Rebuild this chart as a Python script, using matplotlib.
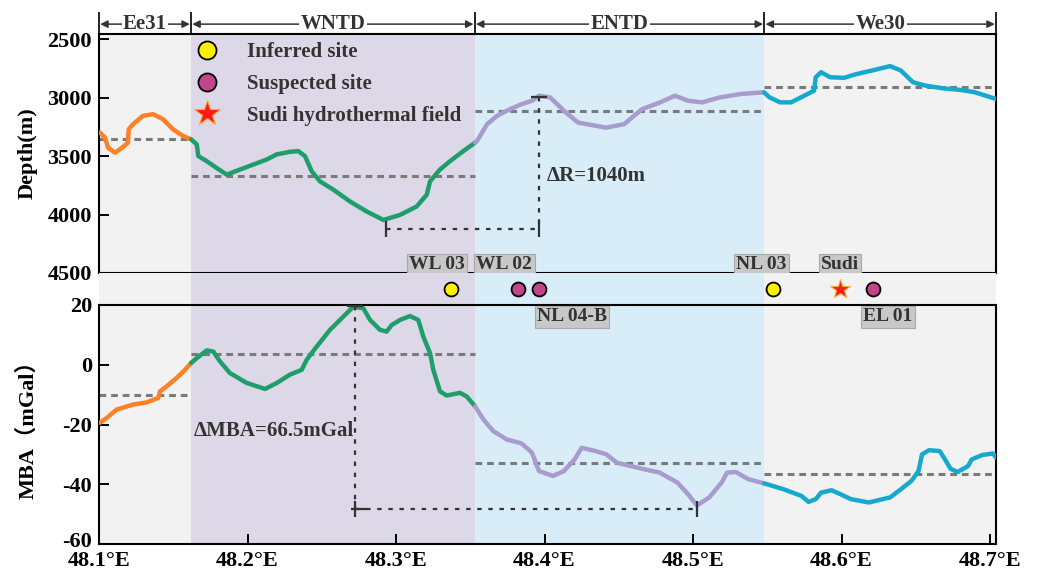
import matplotlib

matplotlib.use("Agg")
import matplotlib.pyplot as plt
import matplotlib.transforms as mtransforms
from matplotlib.lines import Line2D

plt.rcParams["font.family"] = ["Liberation Serif", "Noto Sans CJK SC", "DejaVu Sans"]
plt.rcParams["font.weight"] = "bold"
plt.rcParams["axes.labelweight"] = "bold"
plt.rcParams["axes.unicode_minus"] = False

# segment names and boundaries (longitude, deg E)
regions = ["Ee31", "WNTD", "ENTD", "We30"]
bounds = [48.1, 48.162, 48.353, 48.548, 48.704]
region_bg = ["#f2f2f2", "#dcd8e8", "#d8edf8", "#f2f2f2"]
line_colors = ["#ff8027", "#1f9e6c", "#a89bcd", "#16a9cf"]

# depth profile, one list per segment
depth_lon = [
    [48.1007, 48.1040, 48.1061, 48.1108, 48.1155, 48.1195, 48.1200, 48.1229,
     48.1296, 48.1364, 48.1431, 48.1498, 48.1566, 48.1620],
    [48.1620, 48.1658, 48.1669, 48.1725, 48.1792, 48.1860, 48.1949, 48.2039,
     48.2129, 48.2197, 48.2286, 48.2342, 48.2387, 48.2432, 48.2488, 48.2578,
     48.2690, 48.2803, 48.2915, 48.3027, 48.3139, 48.3207, 48.3229, 48.3296,
     48.3364, 48.3453, 48.3532],
    [48.3532, 48.3545, 48.3579, 48.3613, 48.3680, 48.3768, 48.3835, 48.3916,
     48.3963, 48.4037, 48.4131, 48.4226, 48.4414, 48.4535, 48.4657, 48.4778,
     48.4879, 48.4966, 48.5061, 48.5182, 48.5323, 48.5478],
    [48.5478, 48.5515, 48.5586, 48.5660, 48.5727, 48.5815, 48.5826, 48.5862,
     48.5923, 48.6017, 48.6088, 48.6206, 48.6327, 48.6399, 48.6481, 48.6566,
     48.6684, 48.6805, 48.6899, 48.7040],
]
depth_val = [
    [3299, 3342, 3428, 3471, 3428, 3385, 3270, 3227, 3155, 3141, 3184, 3270,
     3328, 3356],
    [3356, 3399, 3500, 3543, 3601, 3658, 3615, 3572, 3529, 3485, 3463, 3457,
     3500, 3629, 3716, 3787, 3888, 3974, 4046, 4003, 3931, 3830, 3716, 3615,
     3543, 3457, 3385],
    [3385, 3371, 3299, 3227, 3155, 3098, 3060, 3026, 2983, 2997, 3112, 3213,
     3256, 3227, 3098, 3040, 2983, 3026, 3040, 2997, 2968, 2954],
    [2954, 2997, 3040, 3040, 2997, 2940, 2825, 2782, 2825, 2830, 2802, 2767,
     2730, 2767, 2868, 2897, 2920, 2934, 2954, 3011],
]
depth_mean = [3351, 3672, 3112, 2910]

# mantle Bouguer anomaly profile
mba_lon = [
    [48.1007, 48.1052, 48.1119, 48.1231, 48.1321, 48.1399, 48.1411, 48.1456,
     48.1523, 48.1579, 48.1620],
    [48.1620, 48.1658, 48.1725, 48.1770, 48.1815, 48.1882, 48.1995, 48.2118,
     48.2197, 48.2286, 48.2365, 48.2399, 48.2466, 48.2556, 48.2645, 48.2712,
     48.2780, 48.2825, 48.2892, 48.2937, 48.2971, 48.3027, 48.3094, 48.3150,
     48.3184, 48.3229, 48.3251, 48.3296, 48.3341, 48.3431, 48.3476, 48.3532],
    [48.3532, 48.3588, 48.3655, 48.3745, 48.3844, 48.3915, 48.3963, 48.4057,
     48.4130, 48.4202, 48.4250, 48.4345, 48.4417, 48.4488, 48.4655, 48.4775,
     48.4894, 48.4966, 48.5026, 48.5109, 48.5193, 48.5229, 48.5288, 48.5372,
     48.5478],
    [48.5478, 48.5611, 48.5730, 48.5778, 48.5826, 48.5862, 48.5933, 48.5992,
     48.6064, 48.6184, 48.6327, 48.6399, 48.6470, 48.6518, 48.6542, 48.6589,
     48.6661, 48.6697, 48.6733, 48.6781, 48.6852, 48.6876, 48.6948, 48.7020,
     48.7040],
]
mba_val = [
    [-19.4, -17.8, -15.0, -13.3, -12.6, -11.1, -8.9, -7.2, -4.4, -1.7, 0.6],
    [0.6, 2.2, 4.8, 4.4, 1.1, -2.8, -6.1, -8.1, -6.1, -3.3, -1.7, 1.7, 6.1,
     11.7, 16.1, 19.4, 18.9, 15.0, 11.7, 11.1, 13.3, 15.0, 16.3, 15.0, 9.4,
     3.9, -1.7, -8.9, -10.3, -9.4, -10.6, -13.9],
    [-13.9, -18.3, -22.2, -25.0, -26.3, -29.4, -35.6, -37.2, -35.6, -31.7,
     -27.8, -28.9, -30.0, -32.8, -34.8, -36.1, -39.4, -43.3, -47.1, -44.4,
     -39.4, -36.1, -35.9, -38.3, -39.7],
    [-39.7, -41.7, -43.9, -45.9, -45.0, -42.8, -42.0, -43.3, -45.0, -46.1,
     -44.4, -41.7, -38.9, -35.6, -30.0, -28.6, -28.9, -31.7, -34.8, -35.9,
     -33.9, -31.7, -30.2, -29.7, -31.1],
]
mba_mean = [-10.2, 3.7, -33.0, -36.7]

# hydrothermal sites
inferred_lon = [48.337, 48.554]
suspected_lon = [48.382, 48.396, 48.621]
sudi_lon = [48.599]
top_site_names = ["WL 03", "WL 02", "NL 03", "Sudi"]
top_site_lon = [48.3276, 48.373, 48.546, 48.599]
bot_site_names = ["NL 04-B", "EL 01"]
bot_site_lon = [48.4185, 48.631]

# relief / anomaly range annotations
dr_x = [48.2933, 48.3963]
dr_y = [2990, 4120]
dmba_x = [48.2722, 48.5026]
dmba_y = [19.5, -48.3]

xticks = [48.1, 48.2, 48.3, 48.4, 48.5, 48.6, 48.7]
xticklabels = ["48.1°E", "48.2°E", "48.3°E", "48.4°E", "48.5°E", "48.6°E", "48.7°E"]

W, H = 1053, 573
L, AW = 99 / W, 897 / W
fig = plt.figure(figsize=(W / 100, H / 100), dpi=100)
ax_head = fig.add_axes([L, 1 - 34 / H, AW, 26 / H])
ax_top = fig.add_axes([L, 1 - 273 / H, AW, 239 / H])
ax_mid = fig.add_axes([L, 1 - 305 / H, AW, 32 / H])
ax_bot = fig.add_axes([L, 1 - 544 / H, AW, 239 / H])

xlim = (bounds[0], bounds[-1])
for ax in (ax_head, ax_top, ax_mid, ax_bot):
    ax.set_xlim(xlim)

# background shading
for ax in (ax_top, ax_mid, ax_bot):
    for i in range(len(regions)):
        ax.axvspan(bounds[i], bounds[i + 1], color=region_bg[i], lw=0, zorder=0)

# header with arrows
ax_head.axis("off")
ax_head.set_ylim(0, 1)
for b in bounds:
    ax_head.plot([b, b], [0, 0.82], color="#222222", lw=1.4, clip_on=False)
for i, name in enumerate(regions):
    ax_head.annotate("", xy=(bounds[i] + 0.0008, 0.38), xytext=(bounds[i + 1] - 0.0008, 0.38),
                     arrowprops=dict(arrowstyle="<|-|>", color="#333333", lw=1.1,
                                     mutation_scale=11, shrinkA=0, shrinkB=0))
    ax_head.text((bounds[i] + bounds[i + 1]) / 2, 0.38, name, ha="center", va="center",
                 fontsize=15, color="#333333",
                 bbox=dict(facecolor="white", edgecolor="none", pad=1.0))

dash = dict(color="#7a7a7a", lw=2.2, ls=(0, (2.2, 1.6)), zorder=2)

# depth panel
for i in range(len(regions)):
    ax_top.plot(depth_lon[i], depth_val[i], color=line_colors[i], lw=3.2, zorder=3,
                solid_capstyle="round")
    ax_top.plot([bounds[i], bounds[i + 1]], [depth_mean[i]] * 2, **dash)
ax_top.set_ylim(4500, 2455)
ax_top.set_yticks([2500, 3000, 3500, 4000, 4500])
ax_top.set_xticks([])
ax_top.set_ylabel("Depth(m)", fontsize=16)
ax_top.yaxis.set_label_coords(-0.068, 0.5)

dot = dict(color="#333333", lw=1.6, ls=(0, (2, 3)), zorder=4)
ax_top.plot([dr_x[1], dr_x[1]], dr_y, **dot)
ax_top.plot(dr_x, [dr_y[1]] * 2, **dot)
ax_top.plot([dr_x[1]], [dr_y[0]], marker="_", ms=12, mew=1.6, color="#333333", zorder=4)
ax_top.plot(dr_x, [dr_y[1]] * 2, ls="none", marker="|", ms=12, mew=1.6, color="#333333", zorder=4)
ax_top.text(dr_x[1] + 0.005, 3672, "ΔR=1040m", fontsize=15, color="#333333",
            ha="left", va="center", zorder=5)

for name, x in zip(top_site_names, top_site_lon):
    ax_top.text(x, 4430, name, ha="center", va="center", fontsize=14, color="#333333",
                bbox=dict(boxstyle="square,pad=0.12", facecolor="#c8c8c8",
                          edgecolor="#a8a8a8", lw=0.8), zorder=5)

handles = [
    Line2D([], [], ls="none", marker="o", ms=13, mfc="#ffee00", mec="black", mew=1.3),
    Line2D([], [], ls="none", marker="o", ms=13, mfc="#c0458a", mec="black", mew=1.3),
    Line2D([], [], ls="none", marker="*", ms=19, mfc="#ff1a1a", mec="#ffaa33", mew=0.8),
]
leg = ax_top.legend(handles, ["Inferred site", "Suspected site", "Sudi hydrothermal field"],
                    loc="upper left", bbox_to_anchor=(0.1, 1.0), frameon=False,
                    fontsize=15, handlelength=1.0, handletextpad=1.4, labelspacing=0.56,
                    borderaxespad=0)
for t in leg.get_texts():
    t.set_color("#333333")

# marker strip
ax_mid.set_ylim(0, 1)
for s in ax_mid.spines.values():
    s.set_visible(False)
ax_mid.set_xticks([])
ax_mid.set_yticks([])
ax_mid.plot(inferred_lon, [0.5] * len(inferred_lon), ls="none", marker="o", ms=10,
            mfc="#ffee00", mec="black", mew=1.3, zorder=3)
ax_mid.plot(suspected_lon, [0.5] * len(suspected_lon), ls="none", marker="o", ms=10,
            mfc="#c0458a", mec="black", mew=1.3, zorder=3)
ax_mid.plot(sudi_lon, [0.5] * len(sudi_lon), ls="none", marker="*", ms=15,
            mfc="#ff1a1a", mec="#ffaa33", mew=0.8, zorder=3)

# MBA panel
for i in range(len(regions)):
    ax_bot.plot(mba_lon[i], mba_val[i], color=line_colors[i], lw=3.2, zorder=3,
                solid_capstyle="round")
    ax_bot.plot([bounds[i], bounds[i + 1]], [mba_mean[i]] * 2, **dash)
ax_bot.set_ylim(-60, 20)
ax_bot.set_yticks([20, 0, -20, -40, -60])
ax_bot.set_xticks(xticks)
ax_bot.set_xticklabels(xticklabels)
ax_bot.set_ylabel("MBA（mGal）", fontsize=16)
ax_bot.yaxis.set_label_coords(-0.068, 0.5)

ax_bot.plot([dmba_x[0], dmba_x[0]], dmba_y, **dot)
ax_bot.plot(dmba_x, [dmba_y[1]] * 2, **dot)
ax_bot.plot([dmba_x[0]], [dmba_y[0]], marker="_", ms=12, mew=1.6, color="#333333", zorder=4)
ax_bot.plot(dmba_x, [dmba_y[1]] * 2, ls="none", marker="|", ms=12, mew=1.6, color="#333333", zorder=4)
ax_bot.plot([dmba_x[0] + 0.003], [dmba_y[1]], marker="_", ms=12, mew=1.6, color="#333333", zorder=4)
ax_bot.text(dmba_x[0] - 0.0005, -22.2, "ΔMBA=66.5mGal", fontsize=15, color="#333333",
            ha="right", va="center", zorder=5)

for name, x in zip(bot_site_names, bot_site_lon):
    ax_bot.text(x, 16, name, ha="center", va="center", fontsize=14, color="#333333",
                bbox=dict(boxstyle="square,pad=0.12", facecolor="#c8c8c8",
                          edgecolor="#a8a8a8", lw=0.8), zorder=5)

for ax in (ax_top, ax_bot):
    for s in ax.spines.values():
        s.set_linewidth(1.5)
    ax.tick_params(direction="in", length=7, width=1.4, labelsize=16, pad=5)
ax_bot.tick_params(axis="x", pad=5)

# nudge the lowest MBA label up a few pixels so it clears "48.1°E"
fig.canvas.draw()
low = ax_bot.get_yticklabels()[-1]
low.set_transform(low.get_transform()
                  + mtransforms.ScaledTranslation(0, 3 / 72, fig.dpi_scale_trans))

fig.savefig("out.png", dpi=100)
